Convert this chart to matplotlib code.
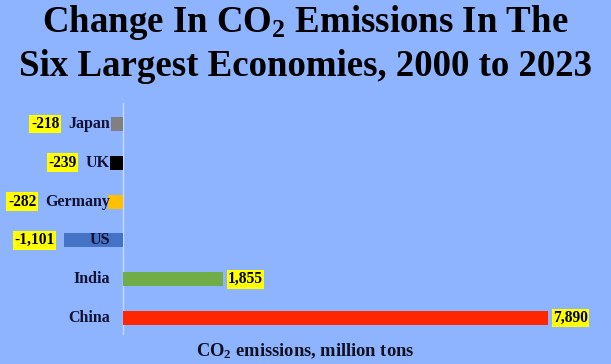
import matplotlib
matplotlib.use("Agg")
import matplotlib.pyplot as plt

countries = ["China", "India", "US", "Germany", "UK", "Japan"]
values = [7890, 1855, -1101, -282, -239, -218]
value_labels = ["7,890", "1,855", "-1,101", "-282", "-239", "-218"]
colors = ["#FF2600", "#70AD47", "#4472C4", "#FFC000", "#000000", "#808080"]

title = "Change In CO$_\\mathbf{2}$ Emissions In The\nSix Largest Economies, 2000 to 2023"
xlabel = "CO$_\\mathbf{2}$ emissions, million tons"

plt.rcParams["font.family"] = ["Liberation Serif", "DejaVu Serif"]
plt.rcParams["font.weight"] = "bold"
plt.rcParams["mathtext.fontset"] = "custom"
plt.rcParams["mathtext.bf"] = "Liberation Serif:bold"
plt.rcParams["mathtext.rm"] = "Liberation Serif:bold"
plt.rcParams["mathtext.default"] = "bf"

W, H = 611, 364
bg = "#8FB4FF"
fig = plt.figure(figsize=(W / 100, H / 100), dpi=100, facecolor=bg)
ax = fig.add_axes([10 / W, 29 / H, 590 / W, 232 / H])
ax.set_facecolor(bg)

pxu = (548 - 123) / 7890.0
ax.set_xlim(-(123 - 10) / pxu, (600 - 123) / pxu)
ax.set_ylim(-0.44, 5.54)

ypos = list(range(len(countries)))
ax.barh(ypos, values, height=0.36, color=colors, zorder=2)
ax.axvline(0, color="#C8D8FF", lw=1, zorder=1)
for s in ax.spines.values():
    s.set_visible(False)
ax.set_xticks([])
ax.set_yticks([])

lines = title.split("\n")
fig.text(0.5, 1 - 23 / H, lines[0], ha="center", va="center",
         fontsize=26.6, fontweight="bold", color="black")
fig.text(0.5, 1 - 66 / H, lines[1], ha="center", va="center",
         fontsize=26.6, fontweight="bold", color="black")
fig.text(305 / W, 1 - 351 / H, xlabel, ha="center", va="center",
         fontsize=13.3, fontweight="bold", color="#111122")

fig.canvas.draw()
renderer = fig.canvas.get_renderer()

pt = 72 / 100.0
for y, c, v, lab in zip(ypos, countries, values, value_labels):
    name = ax.annotate(c, xy=(0, y), xytext=(-13 * pt, 0), textcoords="offset points",
                       ha="right", va="center", fontsize=11.5, fontweight="bold",
                       color="#111133", zorder=3)
    if v >= 0:
        ax.annotate(lab, xy=(v, y), xytext=(5 * pt, 0), textcoords="offset points",
                    ha="left", va="center", fontsize=11.2, fontweight="bold", color="black",
                    bbox=dict(facecolor="#FFFF00", edgecolor="none", pad=1), zorder=4)
    else:
        fig.canvas.draw()
        bb = name.get_window_extent(renderer)
        bar_end = ax.transData.transform((v, y))[0]
        left = min(bb.x0, bar_end)
        xd = ax.transData.inverted().transform((left, 0))[0]
        ax.annotate(lab, xy=(xd, y), xytext=(-9 * pt, 0), textcoords="offset points",
                    ha="right", va="center", fontsize=11.2, fontweight="bold", color="black",
                    bbox=dict(facecolor="#FFFF00", edgecolor="none", pad=1), zorder=4)

fig.savefig("out.png", dpi=100, facecolor=bg)
